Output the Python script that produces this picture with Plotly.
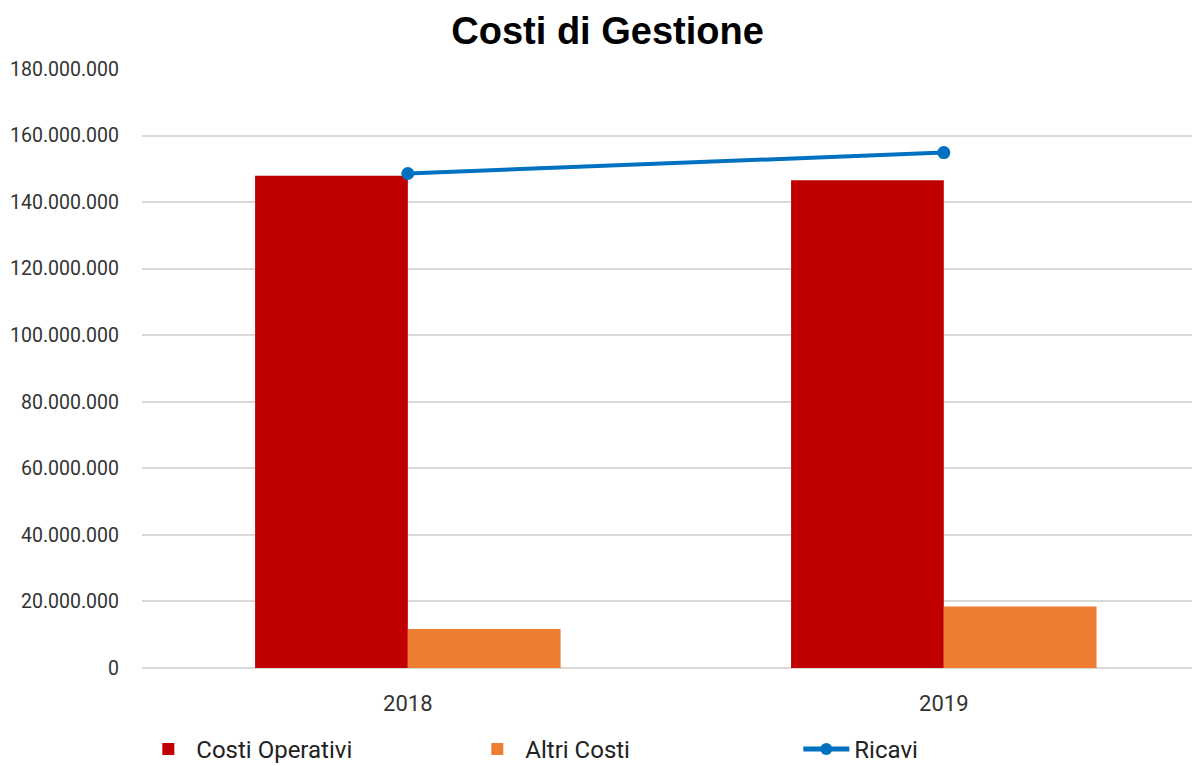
import plotly.graph_objects as go

anni = ["2018", "2019"]
costi_operativi = [147_900_000, 146_600_000]
altri_costi = [11_700_000, 18_500_000]
ricavi = [148_600_000, 154_900_000]
y_ticks = [0, 20_000_000, 40_000_000, 60_000_000, 80_000_000, 100_000_000,
           120_000_000, 140_000_000, 160_000_000, 180_000_000]
y_tick_labels = [f"{v:,}".replace(",", ".") for v in y_ticks]

fig = go.Figure()
fig.add_trace(go.Bar(x=anni, y=costi_operativi, name="Costi Operativi",
                     marker=dict(color="#C00000", line=dict(width=0))))
fig.add_trace(go.Bar(x=anni, y=altri_costi, name="Altri Costi",
                     marker=dict(color="#ED7D31", line=dict(width=0))))
fig.add_trace(go.Scatter(x=anni, y=ricavi, name="Ricavi", mode="lines+markers",
                         line=dict(color="#0070C0", width=4),
                         marker=dict(color="#0070C0", size=13)))

fig.update_layout(
    width=1192, height=758,
    paper_bgcolor="white", plot_bgcolor="white",
    margin=dict(l=134, r=0, t=61, b=98, autoexpand=False),
    title=dict(text="<b>Costi di Gestione</b>", x=0.503, xanchor="center",
               y=0.970, yanchor="middle",
               font=dict(family="Liberation Sans, Arial", size=38, color="#000000")),
    barmode="group", bargap=0.43, bargroupgap=0,
    font=dict(family="Roboto, Arial", color="#333333"),
    showlegend=True,
    legend=dict(orientation="h", xref="container", x=0.111, xanchor="left",
                yref="container", y=0.022, yanchor="middle",
                font=dict(size=24, color="#222222"),
                itemwidth=46,
                entrywidth=268, entrywidthmode="pixels",
                itemsizing="constant", traceorder="normal"),
    xaxis=dict(type="category", range=[-0.496, 1.478], showgrid=False,
               showline=False, ticks="", ticklabelstandoff=20,
               tickfont=dict(size=22, color="#333333")),
    yaxis=dict(range=[0, 180_000_000], tickvals=y_ticks, ticktext=y_tick_labels,
               showgrid=True, gridcolor="#D9D9D9", gridwidth=1.5,
               zeroline=True, zerolinecolor="#D9D9D9", zerolinewidth=1.5,
               ticks="", ticklabelstandoff=22,
               tickfont=dict(size=19.5, color="#333333")),
)
fig.write_html("out.html")
